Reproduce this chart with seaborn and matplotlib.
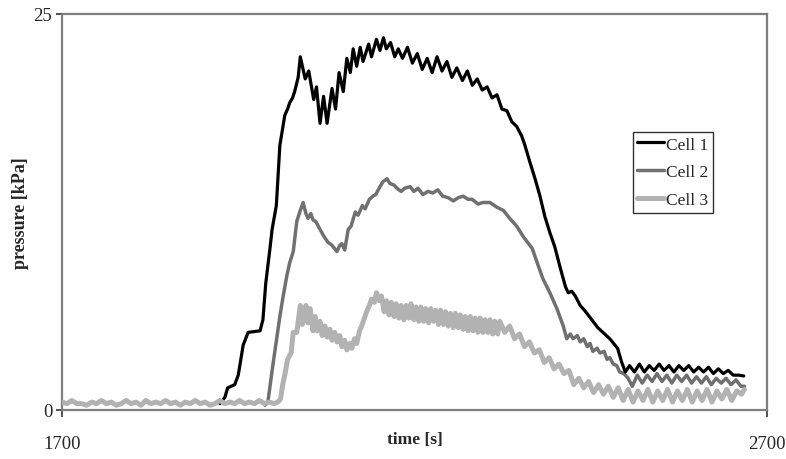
import matplotlib
matplotlib.use("Agg")
import matplotlib.pyplot as plt
import pandas as pd
import seaborn as sns

# pressure readings [kPa] versus time [s]
cell1_t = [1924, 1931, 1935, 1945, 1950, 1957, 1964, 1981, 1985, 1989, 1995, 1998,
           2004, 2009, 2016, 2020, 2023, 2027, 2030, 2035, 2038, 2045, 2050, 2057,
           2061, 2066, 2071, 2076, 2083, 2088, 2093, 2099, 2104, 2109, 2113, 2118,
           2123, 2127, 2135, 2139, 2146, 2151, 2156, 2160, 2166, 2172, 2177, 2183,
           2190, 2197, 2204, 2211, 2218, 2225, 2232, 2239, 2246, 2253, 2260, 2268,
           2275, 2282, 2289, 2296, 2303, 2310, 2317, 2324, 2331, 2338, 2345, 2352,
           2356, 2364, 2371, 2378, 2385, 2392, 2399, 2406, 2414, 2418, 2423, 2428,
           2435, 2441, 2448, 2460, 2477, 2488, 2494, 2499, 2505, 2512, 2519, 2526,
           2533, 2540, 2547, 2554, 2561, 2568, 2575, 2582, 2589, 2596, 2603, 2610,
           2617, 2624, 2631, 2638, 2645, 2652, 2660, 2667]
cell1_p = [0.4, 0.8, 1.4, 1.6, 2.2, 4.1, 4.9, 5.0, 5.7, 8.0, 10.2, 11.4,
           12.9, 16.7, 18.6, 19.0, 19.4, 19.7, 20.1, 21.0, 22.3, 20.9, 21.4, 19.6,
           20.4, 18.1, 19.8, 18.1, 20.3, 19.0, 21.3, 20.1, 22.2, 21.3, 22.8, 21.7,
           22.9, 22.0, 23.1, 22.3, 23.4, 22.7, 23.5, 22.8, 23.2, 22.3, 22.8, 22.2,
           22.9, 21.9, 22.5, 21.5, 22.2, 21.3, 22.3, 21.4, 22.0, 21.0, 21.6, 20.8,
           21.4, 20.5, 20.9, 20.2, 20.4, 19.7, 19.9, 19.0, 18.9, 18.2, 17.9, 17.3,
           16.8, 15.6, 14.6, 13.5, 12.2, 11.2, 10.3, 9.1, 7.8, 7.4, 7.5, 7.2,
           6.6, 6.3, 5.9, 5.2, 4.5, 3.9, 3.0, 2.4, 2.8, 2.4, 2.9, 2.4,
           2.8, 2.5, 2.9, 2.5, 2.8, 2.4, 2.8, 2.5, 2.8, 2.4, 2.7, 2.4,
           2.7, 2.3, 2.6, 2.3, 2.5, 2.2, 2.2, 2.15]

cell2_t = [1988, 1992, 1999, 2009, 2013, 2019, 2023, 2028, 2033, 2038, 2042, 2046,
           2049, 2053, 2056, 2060, 2066, 2071, 2077, 2083, 2090, 2094, 2097, 2101,
           2106, 2110, 2116, 2120, 2126, 2130, 2136, 2141, 2145, 2151, 2155, 2161,
           2165, 2171, 2175, 2181, 2186, 2194, 2199, 2205, 2212, 2219, 2226, 2233,
           2240, 2248, 2255, 2262, 2269, 2276, 2282, 2290, 2297, 2307, 2317, 2326,
           2335, 2345, 2355, 2367, 2374, 2382, 2392, 2402, 2411, 2416, 2421, 2425,
           2431, 2435, 2440, 2445, 2449, 2453, 2459, 2463, 2469, 2473, 2477, 2482,
           2487, 2491, 2497, 2503, 2509, 2516, 2523, 2530, 2537, 2544, 2551, 2558,
           2565, 2572, 2579, 2586, 2593, 2600, 2607, 2614, 2621, 2628, 2635, 2642,
           2649, 2656, 2663, 2668]
cell2_p = [0.3, 0.5, 2.8, 5.9, 7.0, 8.5, 9.3, 10.0, 11.9, 12.6, 13.1, 12.4,
           12.1, 12.4, 12.0, 11.9, 11.4, 11.0, 10.6, 10.4, 10.0, 10.4, 10.5, 10.1,
           11.4, 11.6, 12.5, 12.3, 12.9, 12.7, 13.3, 13.5, 13.6, 14.1, 14.4, 14.6,
           14.3, 14.2, 14.0, 13.8, 14.0, 14.1, 13.8, 14.0, 13.6, 13.8, 13.7, 13.9,
           13.5, 13.4, 13.2, 13.4, 13.5, 13.3, 13.3, 13.0, 13.1, 13.1, 12.8, 12.6,
           12.1, 11.6, 10.9, 10.2, 9.3, 8.3, 7.4, 6.4, 5.3, 4.5, 4.8, 4.5,
           4.7, 4.3, 4.5, 4.0, 4.2, 3.7, 3.9, 3.6, 3.7, 3.2, 3.3, 2.9,
           2.8, 2.4, 2.3, 2.0, 1.5, 2.2, 1.7, 2.2, 1.8, 2.3, 1.8, 2.2,
           1.7, 2.2, 1.8, 2.2, 1.7, 2.1, 1.7, 2.1, 1.6, 2.0, 1.7, 2.0,
           1.6, 1.9, 1.5, 1.5]

cell3_t = [1700, 1707, 1714, 1721, 1728, 1735, 1742, 1749, 1756, 1763, 1770, 1777,
           1784, 1791, 1798, 1805, 1812, 1819, 1826, 1833, 1840, 1847, 1854, 1861,
           1868, 1875, 1882, 1889, 1896, 1903, 1910, 1917, 1924, 1931, 1938, 1945,
           1952, 1959, 1966, 1973, 1980, 1987, 1994, 2001, 2006, 2010, 2013, 2016,
           2020, 2025, 2028, 2033, 2038, 2041, 2043, 2046, 2049, 2052, 2056, 2059,
           2062, 2066, 2069, 2073, 2076, 2080, 2083, 2087, 2090, 2094, 2097, 2101,
           2104, 2108, 2111, 2115, 2118, 2122, 2125, 2129, 2132, 2136, 2139, 2143,
           2146, 2150, 2153, 2157, 2160, 2164, 2167, 2171, 2174, 2178, 2181, 2185,
           2188, 2192, 2195, 2199, 2202, 2206, 2209, 2213, 2216, 2220, 2223, 2227,
           2230, 2234, 2237, 2241, 2244, 2248, 2251, 2255, 2258, 2262, 2265, 2269,
           2272, 2276, 2279, 2283, 2286, 2290, 2293, 2297, 2300, 2304, 2307, 2311,
           2314, 2318, 2321, 2328, 2335, 2342, 2349, 2356, 2363, 2370, 2377, 2384,
           2391, 2398, 2405, 2412, 2419, 2426, 2433, 2440, 2447, 2454, 2461, 2468,
           2475, 2482, 2489, 2496, 2503, 2510, 2517, 2524, 2531, 2538, 2545, 2552,
           2559, 2566, 2573, 2580, 2587, 2594, 2601, 2608, 2615, 2622, 2629, 2636,
           2643, 2650, 2657, 2664, 2668]
cell3_p = [0.5, 0.4, 0.6, 0.4, 0.4, 0.3, 0.5, 0.4, 0.6, 0.4, 0.5, 0.3,
           0.4, 0.6, 0.4, 0.5, 0.3, 0.6, 0.4, 0.5, 0.4, 0.6, 0.4, 0.5,
           0.3, 0.5, 0.4, 0.6, 0.4, 0.5, 0.3, 0.4, 0.6, 0.4, 0.5, 0.4,
           0.6, 0.4, 0.5, 0.4, 0.6, 0.4, 0.5, 0.4, 0.5, 0.7, 1.6, 2.2,
           3.2, 3.6, 4.9, 4.9, 6.6, 5.4, 5.9, 6.6, 5.5, 6.4, 5.0, 5.9,
           5.0, 5.6, 4.7, 5.3, 4.6, 5.1, 4.4, 4.9, 4.3, 4.7, 4.0, 4.4,
           3.8, 4.2, 3.9, 4.5, 4.2, 5.0, 5.3, 5.8, 6.2, 6.6, 7.0, 6.8,
           7.4, 6.9, 7.2, 6.2, 6.9, 6.0, 6.8, 5.9, 6.7, 5.8, 6.6, 5.7,
           6.6, 5.8, 6.7, 5.7, 6.5, 5.6, 6.5, 5.6, 6.4, 5.5, 6.4, 5.6,
           6.3, 5.4, 6.3, 5.4, 6.2, 5.3, 6.1, 5.2, 6.1, 5.2, 6.0, 5.1,
           5.9, 5.0, 5.9, 5.0, 5.8, 4.9, 5.8, 4.9, 5.7, 4.9, 5.7, 4.8,
           5.6, 4.8, 5.6, 4.9, 5.3, 4.5, 4.8, 4.0, 4.3, 3.6, 3.8, 3.0,
           3.3, 2.6, 2.9, 2.3, 2.5, 1.6, 2.0, 1.4, 1.8, 1.1, 1.6, 1.0,
           1.5, 0.8, 1.4, 0.6, 1.3, 0.5, 1.2, 0.6, 1.3, 0.5, 1.2, 0.6,
           1.3, 0.5, 1.2, 0.6, 1.3, 0.5, 1.2, 0.6, 1.3, 0.5, 1.2, 0.7,
           1.3, 0.6, 1.2, 1.0, 1.3]

series = [("Cell 1", cell1_t, cell1_p, "#000000", 2.3, 3),
          ("Cell 2", cell2_t, cell2_p, "#707070", 2.5, 2),
          ("Cell 3", cell3_t, cell3_p, "#b2b2b2", 3.6, 4)]

sns.set_style("white")
plt.rcParams["font.family"] = ["Liberation Serif", "DejaVu Serif"]

fig = plt.figure(figsize=(7.86, 4.60), dpi=100)
ax = fig.add_axes([62 / 786, 1 - 411 / 460, 705 / 786, 396 / 460])

for name, t, p, color, lw, z in series:
    df = pd.DataFrame({"time": t, "pressure": p})
    sns.lineplot(data=df, x="time", y="pressure", ax=ax, color=color, linewidth=lw,
                 label=name, sort=False, estimator=None, zorder=z)

ax.set_xlim(1700, 2700)
ax.set_ylim(0, 25)
ax.set_xticks([1700, 2700])
ax.set_yticks([0, 25])

for sp in ax.spines.values():
    sp.set_color("#7f7f7f")
    sp.set_linewidth(1.6)

ax.tick_params(axis="x", direction="out", length=5, width=1.2, color="#333333",
               labelsize=13.5, pad=13, bottom=True)
ax.tick_params(axis="y", direction="out", length=4, width=1.2, color="#333333",
               labelsize=13.5, pad=3, left=True)

ax.set_xlabel("time [s]", fontsize=12.5, fontweight="bold")
ax.set_ylabel("pressure [kPa]", fontsize=13, fontweight="bold")
ax.xaxis.set_label_coords(0.5, -0.052)
ax.yaxis.set_label_coords(-0.047, 0.5)

leg = ax.legend(loc="upper left", bbox_to_anchor=(0.81, 0.702), borderaxespad=0,
                fontsize=12.5, frameon=True, fancybox=False, framealpha=1,
                edgecolor="#333333", handlelength=1.55, handletextpad=0.1,
                labelspacing=0.68, borderpad=0.25)
leg.get_frame().set_linewidth(1.0)

fig.savefig("out.png", dpi=100)
